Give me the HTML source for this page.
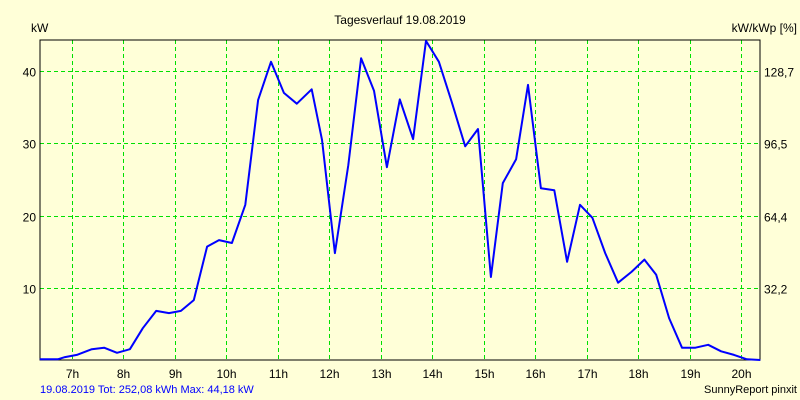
<!DOCTYPE html>
<html><head><meta charset="utf-8"><style>
html,body{margin:0;padding:0;background:#ffffd8;}
svg{display:block;font-family:"Liberation Sans",sans-serif;}
</style></head><body>
<svg id="chart" width="800" height="400">
<rect x="0" y="0" width="800" height="400" fill="#ffffd8"/>
<text x="400" y="24" text-anchor="middle" font-size="12" fill="#000">Tagesverlauf 19.08.2019</text>
<text x="31" y="32" font-size="12" fill="#000">kW</text>
<text x="797" y="32" text-anchor="end" font-size="12" fill="#000">kW/kWp [%]</text>
<text x="40" y="393" font-size="11" fill="#0000ff">19.08.2019 Tot: 252,08 kWh Max: 44,18 kW</text>
<text x="797" y="393" text-anchor="end" font-size="11" fill="#000">SunnyReport pinxit</text>
<g id="grid"></g>
<g id="axes"></g>
<rect x="40" y="40" width="720" height="320" fill="none" stroke="#000" stroke-width="1"/>
<polyline id="line" fill="none" stroke="#0000ff" stroke-width="2" stroke-linejoin="round"/>
</svg>
<script>
const times=[6.38,6.73,6.87,7.10,7.39,7.63,7.88,8.13,8.38,8.64,8.89,9.12,9.37,9.63,9.86,10.11,10.37,10.62,10.87,11.12,11.37,11.66,11.86,12.11,12.37,12.62,12.87,13.12,13.37,13.63,13.88,14.13,14.38,14.64,14.89,15.14,15.37,15.63,15.86,16.11,16.37,16.62,16.87,17.11,17.36,17.61,17.87,18.12,18.35,18.60,18.85,19.11,19.36,19.61,19.86,20.11,20.37];
const power=[0.1,0.1,0.4,0.7,1.5,1.7,1.0,1.5,4.4,6.8,6.5,6.8,8.3,15.7,16.6,16.2,21.5,36.0,41.3,37.0,35.5,37.5,30.5,14.8,27.0,41.8,37.3,26.7,36.1,30.6,44.2,41.3,35.7,29.6,32.0,11.5,24.5,27.8,38.1,23.8,23.5,13.6,21.5,19.7,14.8,10.7,12.2,13.9,11.8,5.8,1.7,1.7,2.1,1.2,0.7,0.1,0.0];
const hourTicks=[7,8,9,10,11,12,13,14,15,16,17,18,19,20];
const yTicks=[10,20,30,40];
const y2Labels=["32,2","64,4","96,5","128,7"];
const NS="http://www.w3.org/2000/svg";
function xs(t){return 71.7+(t-7)*51.5;}
function ys(v){return 360-v*7.22;}
const grid=document.getElementById('grid'), axes=document.getElementById('axes');
function mk(tag,attrs,parent){const e=document.createElementNS(NS,tag);for(const k in attrs)e.setAttribute(k,attrs[k]);parent.appendChild(e);return e;}
hourTicks.forEach(h=>{
  const x=Math.round(xs(h))+0.5;
  const l=mk('line',{x1:x,x2:x,y1:40,y2:360,stroke:'#00e000','stroke-dasharray':'4,3'},grid);
  
  
  const t=mk('text',{x:x,y:378,'text-anchor':'middle','font-size':'12',fill:'#000'},axes);
  t.textContent=h+'h';
  
  
});
yTicks.forEach((v,i)=>{
  const y=Math.round(ys(v))+0.5;
  const l=mk('line',{x1:40,x2:760,y1:y,y2:y,stroke:'#00e000','stroke-dasharray':'4,3'},grid);
  
  
  const t=mk('text',{x:36,y:y+5,'text-anchor':'end','font-size':'12',fill:'#000'},axes);
  t.textContent=v;
  
  
  const t2=mk('text',{x:764,y:y+5,'font-size':'12',fill:'#000'},axes);
  t2.textContent=y2Labels[i];
  
  
});
const line=document.getElementById('line');
line.setAttribute('points',times.map((t,i)=>xs(t).toFixed(1)+','+ys(power[i]).toFixed(1)).join(' '));


</script>
</body></html>
